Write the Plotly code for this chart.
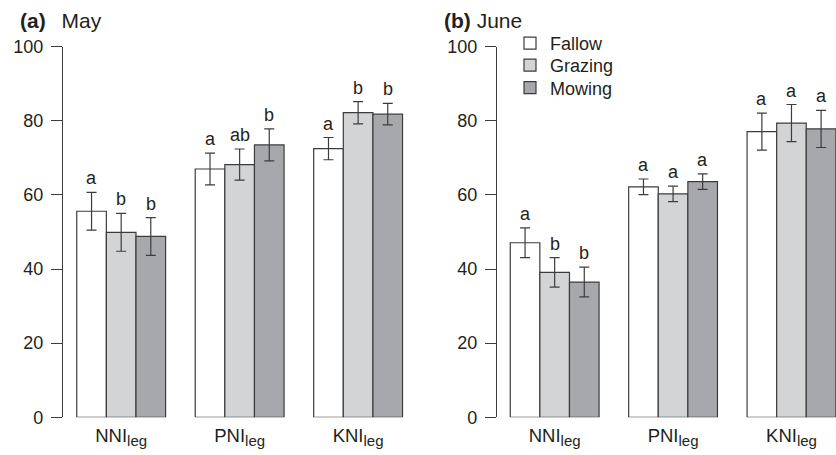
import plotly.graph_objects as go
from plotly.subplots import make_subplots

# Nutrition indices per legume group
categories = [
    'NNI<sub><span style="font-size:15px">leg</span></sub>',
    'PNI<sub><span style="font-size:15px">leg</span></sub>',
    'KNI<sub><span style="font-size:15px">leg</span></sub>',
]
treatments = ["Fallow", "Grazing", "Mowing"]
bar_colors = ["#ffffff", "#d3d4d6", "#a7a8ab"]

# (a) May: means, standard errors and significance letters
may_fallow = [55.6, 67.0, 72.5]
may_grazing = [49.9, 68.2, 82.2]
may_mowing = [48.8, 73.5, 81.8]
may_fallow_err = [5.1, 4.3, 3.0]
may_grazing_err = [5.1, 4.2, 3.0]
may_mowing_err = [5.1, 4.3, 2.9]
may_fallow_sig = ["a", "a", "a"]
may_grazing_sig = ["b", "ab", "b"]
may_mowing_sig = ["b", "b", "b"]

# (b) June
june_fallow = [47.1, 62.2, 77.1]
june_grazing = [39.1, 60.3, 79.4]
june_mowing = [36.5, 63.6, 77.8]
june_fallow_err = [4.0, 2.1, 5.0]
june_grazing_err = [4.0, 2.1, 5.0]
june_mowing_err = [4.0, 2.1, 5.0]
june_fallow_sig = ["a", "a", "a"]
june_grazing_sig = ["b", "a", "a"]
june_mowing_sig = ["b", "a", "a"]

y_ticks = [0, 20, 40, 60, 80, 100]

FONT = "Liberation Sans, Arial, Helvetica, sans-serif"
INK = "#231f20"
EDGE = "#3c3c3c"
W, H = 836, 455
BARGAP = 0.25

panels = [
    dict(
        title="<b>(a)</b>\u00a0\u00a0\u2009May",
        means=[may_fallow, may_grazing, may_mowing],
        errs=[may_fallow_err, may_grazing_err, may_mowing_err],
        sigs=[may_fallow_sig, may_grazing_sig, may_mowing_sig],
    ),
    dict(
        title="<b>(b)</b>\u00a0June",
        means=[june_fallow, june_grazing, june_mowing],
        errs=[june_fallow_err, june_grazing_err, june_mowing_err],
        sigs=[june_fallow_sig, june_grazing_sig, june_mowing_sig],
    ),
]

fig = make_subplots(rows=1, cols=2)

# each treatment gets its own legend box so the key rows sit tightly stacked
legend_ids = ["legend", "legend2", "legend3"]
legend_rows = [43.5, 65.5, 88.0]

annotations = []
bar_w = (1 - BARGAP) / len(treatments)
for p, panel in enumerate(panels):
    col = p + 1
    xref = "x" if p == 0 else "x2"
    yref = "y" if p == 0 else "y2"
    for k, name in enumerate(treatments):
        fig.add_trace(
            go.Bar(
                x=categories,
                y=panel["means"][k],
                name=name,
                legendgroup=name,
                legend=legend_ids[k],
                showlegend=(p == 1),
                marker=dict(color=bar_colors[k], line=dict(color=EDGE, width=1.2)),
                error_y=dict(
                    type="data",
                    array=panel["errs"][k],
                    color=EDGE,
                    thickness=1.2,
                    width=5,
                ),
                cliponaxis=False,
            ),
            row=1,
            col=col,
        )
        # significance letters above each error bar
        offset = (k - (len(treatments) - 1) / 2) * bar_w
        for i, letter in enumerate(panel["sigs"][k]):
            annotations.append(
                dict(
                    x=i + offset,
                    y=panel["means"][k][i] + panel["errs"][k][i],
                    xref=xref,
                    yref=yref,
                    text=letter,
                    showarrow=False,
                    yanchor="middle",
                    xanchor="center",
                    yshift=14,
                    font=dict(family=FONT, size=18, color=INK),
                )
            )

titles_x = [18 / W, 442 / W]
for p, panel in enumerate(panels):
    annotations.append(
        dict(
            x=titles_x[p],
            y=1 - 20.5 / H,
            xref="paper",
            yref="paper",
            text=panel["title"],
            showarrow=False,
            xanchor="left",
            yanchor="middle",
            font=dict(family=FONT, size=21, color=INK),
        )
    )

y_dom = [1 - 417.3 / H, 1 - 46.7 / H]
axis_y = dict(
    range=[0, 100],
    tickvals=y_ticks,
    showgrid=False,
    zeroline=False,
    showline=True,
    linecolor=EDGE,
    linewidth=1.2,
    ticks="outside",
    ticklen=11,
    tickwidth=1.2,
    tickcolor=EDGE,
    tickfont=dict(family=FONT, size=18, color=INK),
    ticklabelstandoff=4,
    automargin=False,
    domain=y_dom,
)
axis_x = dict(
    showgrid=False,
    zeroline=False,
    showline=False,
    ticks="",
    automargin=False,
    ticklabelstandoff=5,
    tickfont=dict(family=FONT, size=18.5, color=INK),
)

legend_style = dict(
    x=510 / W,
    xanchor="left",
    yanchor="middle",
    bgcolor="rgba(0,0,0,0)",
    borderwidth=0,
    font=dict(family=FONT, size=18, color=INK),
    itemclick=False,
    itemdoubleclick=False,
)

fig.update_layout(
    width=W,
    height=H,
    autosize=False,
    margin=dict(l=0, r=0, t=0, b=0, pad=0, autoexpand=False),
    paper_bgcolor="white",
    plot_bgcolor="white",
    barmode="group",
    bargap=BARGAP,
    bargroupgap=0,
    font=dict(family=FONT, color=INK),
    annotations=annotations,
    legend=dict(legend_style, y=1 - legend_rows[0] / H),
    legend2=dict(legend_style, y=1 - legend_rows[1] / H),
    legend3=dict(legend_style, y=1 - legend_rows[2] / H),
    xaxis=dict(axis_x, domain=[63 / W, 405.5 / W], range=[-0.491, 2.4]),
    xaxis2=dict(axis_x, domain=[497 / W, 1.0], range=[-0.487, 2.376]),
    yaxis=dict(axis_y, anchor="x"),
    yaxis2=dict(axis_y, anchor="x2"),
)

fig.write_html("out.html")
